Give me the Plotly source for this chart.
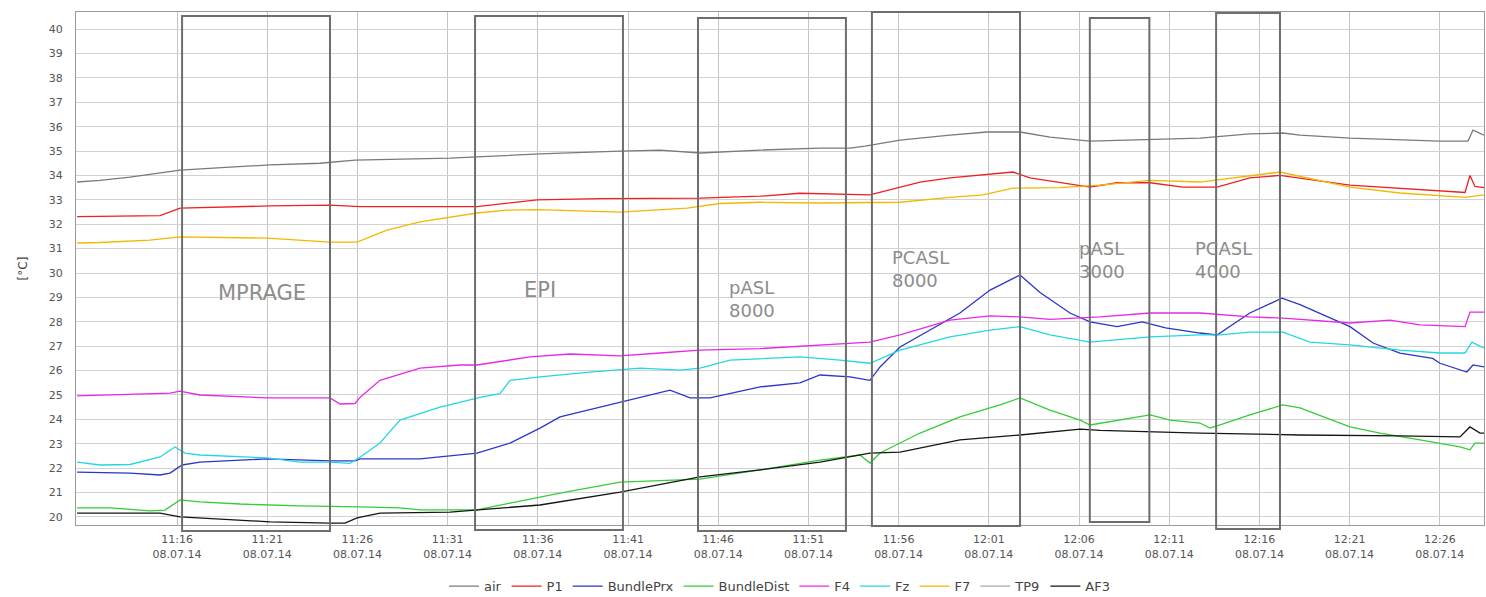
import pandas as pd
import plotly.graph_objects as go

DAY = "2014-07-08 11:00"

# time in minutes after 11:00 on 08.07.2014, values in °C
air_t = [10.46, 11.73, 13.39, 15.06, 16.17, 18.94, 21.16, 23.93, 25.87, 31.13, 36.12, 40.56, 42.77, 44.99,
         48.32, 51.64, 53.31, 54.14, 56.08, 58.85, 60.90, 62.73, 64.39, 66.61, 69.94, 72.71, 75.47, 77.30,
         78.25, 81.02, 86.01, 87.56, 87.84, 88.45]
air_v = [33.73, 33.80, 33.93, 34.10, 34.22, 34.34, 34.43, 34.50, 34.63, 34.71, 34.88, 35.00, 35.04, 34.92,
         35.04, 35.12, 35.12, 35.20, 35.45, 35.65, 35.78, 35.78, 35.57, 35.41, 35.49, 35.53, 35.70, 35.74,
         35.65, 35.53, 35.41, 35.41, 35.86, 35.65]

p1_t = [10.46, 15.06, 16.17, 17.27, 21.16, 24.48, 25.31, 26.14, 32.63, 35.96, 39.45, 44.99, 48.32, 50.53,
        54.41, 57.19, 58.85, 62.34, 63.28, 65.11, 66.61, 68.11, 69.94, 71.76, 73.65, 75.47, 77.14, 81.02,
        84.90, 87.40, 87.67, 87.95, 88.45]
p1_v = [32.31, 32.35, 32.66, 32.68, 32.75, 32.78, 32.76, 32.72, 32.72, 33.00, 33.05, 33.07, 33.15, 33.27,
        33.20, 33.73, 33.90, 34.14, 33.90, 33.70, 33.52, 33.70, 33.70, 33.52, 33.52, 33.90, 34.00, 33.60,
        33.40, 33.30, 34.00, 33.55, 33.50]

prx_t = [10.46, 13.39, 15.06, 15.61, 16.28, 17.27, 20.99, 24.48, 25.87, 26.14, 29.47, 31.69, 32.63, 34.46,
         36.12, 37.23, 39.45, 41.67, 43.33, 44.44, 45.55, 48.32, 50.53, 51.64, 53.31, 54.41, 54.97, 56.08,
         57.74, 59.40, 61.07, 62.73, 63.84, 65.50, 66.61, 68.11, 69.50, 70.80, 72.71, 73.65, 75.47, 77.25,
         78.25, 81.02, 82.30, 83.79, 85.60, 86.01, 87.50, 87.84, 88.45]
prx_v = [21.84, 21.80, 21.72, 21.80, 22.13, 22.25, 22.38, 22.30, 22.30, 22.38, 22.38, 22.54, 22.62, 23.03,
         23.64, 24.10, 24.50, 24.90, 25.20, 24.88, 24.88, 25.33, 25.50, 25.82, 25.74, 25.60, 26.15, 26.97,
         27.66, 28.36, 29.30, 29.92, 29.20, 28.36, 28.00, 27.80, 28.00, 27.75, 27.54, 27.46, 28.36, 28.97,
         28.70, 27.80, 27.13, 26.72, 26.50, 26.30, 25.94, 26.23, 26.15]

dist_t = [10.46, 12.29, 14.50, 15.33, 16.17, 17.27, 19.49, 22.82, 26.14, 28.36, 29.47, 32.63, 34.46, 37.23,
          40.56, 44.99, 48.32, 51.64, 53.86, 54.41, 54.97, 57.19, 59.40, 61.62, 62.73, 64.39, 66.06, 66.61,
          69.94, 71.05, 72.71, 73.26, 73.82, 75.47, 77.30, 78.25, 81.02, 82.69, 84.90, 87.12, 87.67, 87.95,
          88.45]
dist_v = [20.37, 20.37, 20.25, 20.28, 20.70, 20.62, 20.53, 20.45, 20.41, 20.37, 20.29, 20.29, 20.57, 20.98,
          21.43, 21.55, 21.93, 22.33, 22.54, 22.21, 22.62, 23.44, 24.10, 24.59, 24.88, 24.38, 23.97, 23.77,
          24.18, 23.97, 23.85, 23.64, 23.77, 24.18, 24.59, 24.47, 23.69, 23.44, 23.16, 22.87, 22.75, 23.03,
          23.03]

f4_t = [10.46, 15.61, 16.17, 17.27, 20.99, 24.48, 25.04, 25.87, 26.14, 27.25, 29.47, 31.69, 32.63, 35.57,
        37.78, 40.56, 42.77, 44.99, 48.32, 51.64, 54.41, 56.08, 58.85, 61.07, 62.73, 64.39, 67.16, 69.94,
        72.71, 75.47, 77.30, 81.02, 83.24, 84.90, 87.40, 87.67, 88.45]
f4_v = [24.96, 25.08, 25.16, 25.00, 24.88, 24.88, 24.63, 24.65, 24.90, 25.60, 26.10, 26.23, 26.23, 26.56,
        26.68, 26.60, 26.72, 26.84, 26.90, 27.05, 27.17, 27.46, 28.07, 28.24, 28.20, 28.10, 28.20, 28.36,
        28.36, 28.20, 28.15, 27.95, 28.07, 27.87, 27.80, 28.40, 28.40]

fz_t = [10.46, 11.73, 13.39, 15.06, 15.89, 16.44, 17.27, 20.99, 22.82, 24.48, 25.59, 26.14, 27.25, 28.36,
        30.58, 32.80, 33.90, 34.46, 36.12, 38.89, 41.67, 43.88, 44.99, 46.65, 50.53, 52.75, 54.41, 56.08,
        58.85, 61.07, 62.73, 64.39, 66.61, 69.94, 72.71, 73.82, 75.47, 77.30, 78.80, 81.02, 83.79, 86.01,
        87.40, 87.78, 88.45]
fz_v = [22.25, 22.13, 22.15, 22.46, 22.87, 22.62, 22.54, 22.42, 22.25, 22.25, 22.20, 22.45, 23.03, 23.97,
        24.50, 24.90, 25.05, 25.60, 25.74, 25.94, 26.10, 26.02, 26.10, 26.43, 26.56, 26.43, 26.30, 26.84,
        27.38, 27.66, 27.80, 27.46, 27.17, 27.38, 27.46, 27.46, 27.58, 27.58, 27.17, 27.05, 26.84, 26.72,
        26.72, 27.17, 26.92]

f7_t = [10.46, 11.73, 14.50, 16.17, 20.99, 24.48, 25.98, 27.64, 29.47, 32.63, 34.29, 35.96, 40.56, 44.27,
        46.10, 48.32, 51.64, 53.86, 56.08, 58.85, 60.68, 62.34, 64.95, 67.16, 69.94, 72.71, 75.47, 77.14,
        81.02, 83.79, 87.40, 88.45]
f7_v = [31.23, 31.25, 31.35, 31.48, 31.43, 31.27, 31.27, 31.76, 32.10, 32.46, 32.58, 32.60, 32.50, 32.66,
        32.85, 32.90, 32.87, 32.87, 32.90, 33.10, 33.20, 33.48, 33.50, 33.60, 33.80, 33.73, 34.00, 34.14,
        33.52, 33.28, 33.10, 33.20]

tp9_t = [None]
tp9_v = [None]

af3_t = [10.46, 15.06, 16.17, 18.94, 21.16, 24.48, 25.31, 25.98, 27.25, 31.13, 32.63, 36.12, 40.56, 44.99,
         48.32, 51.64, 54.41, 56.08, 59.40, 62.73, 66.06, 67.16, 72.71, 78.25, 83.79, 87.12, 87.67, 88.23,
         88.45]
af3_v = [20.16, 20.16, 20.00, 19.88, 19.80, 19.75, 19.75, 19.96, 20.16, 20.20, 20.29, 20.49, 21.02, 21.64,
         21.93, 22.25, 22.62, 22.66, 23.16, 23.36, 23.60, 23.55, 23.44, 23.36, 23.32, 23.28, 23.69, 23.44,
         23.44]

# MR sequences (start / end, minutes after 11:00)
scan_names = ["MPRAGE", "EPI", "pASL<br>8000", "PCASL<br>8000", "pASL<br>3000", "PCASL<br>4000"]
scan_start = [16.28, 32.52, 44.88, 54.52, 66.60, 73.60]
scan_end = [24.48, 40.72, 53.08, 62.73, 69.90, 77.14]

tick_times = ["11:16", "11:21", "11:26", "11:31", "11:36", "11:41", "11:46", "11:51", "11:56",
              "12:01", "12:06", "12:11", "12:16", "12:21", "12:26"]
tick_date = "08.07.14"
y_ticks = list(range(20, 41))

base = pd.Timestamp(DAY)


def to_time(mins):
    return [None if m is None else base + pd.Timedelta(minutes=m) for m in mins]


series = [
    ("air", air_t, air_v, "#7a7a7a"),
    ("P1", p1_t, p1_v, "#ee2020"),
    ("BundlePrx", prx_t, prx_v, "#2a36c8"),
    ("BundleDist", dist_t, dist_v, "#36cc36"),
    ("F4", f4_t, f4_v, "#e828e8"),
    ("Fz", fz_t, fz_v, "#22d8e0"),
    ("F7", f7_t, f7_v, "#f2b800"),
    ("TP9", tp9_t, tp9_v, "#a8a8a8"),
    ("AF3", af3_t, af3_v, "#151515"),
]

FONT = "DejaVu Sans"
fig = go.Figure()
for name, t, v, c in series:
    fig.add_trace(go.Scatter(x=to_time(t), y=v, name=name, mode="lines",
                             line=dict(color=c, width=1.3)))

# sequence boxes (vertical extent slightly beyond the plot, like the original)
box_y = [(-0.0117, 0.9922), (-0.0097, 0.9922), (-0.0117, 0.9883), (-0.0019, 1.0), (0.0058, 0.9883),
         (-0.0078, 0.9981)]
for (y0, y1), s, e in zip(box_y, scan_start, scan_end):
    fig.add_shape(type="rect", xref="x", yref="paper", x0=base + pd.Timedelta(minutes=s),
                  x1=base + pd.Timedelta(minutes=e), y0=y0, y1=y1,
                  line=dict(color="#6e6e6e", width=2), fillcolor="rgba(0,0,0,0)", layer="above")

# labels of the sequences (paper position of the text block)
label_pos = [(0.1321, 0.4522, "center", 21), (0.3295, 0.4581, "center", 21), (0.4624, 0.4396, "left", 18),
             (0.5781, 0.5000, "left", 18), (0.7109, 0.5156, "left", 18), (0.7933, 0.5156, "left", 18)]
for name, (lx, ly, al, fs) in zip(scan_names, label_pos):
    fig.add_annotation(x=lx, y=ly, xref="paper", yref="paper", text=name, showarrow=False,
                       xanchor=al, yanchor="middle", align="left",
                       font=dict(family=FONT, size=fs, color="#8c8c8c"))

x_range = [base + pd.Timedelta(minutes=10.40), base + pd.Timedelta(minutes=88.45)]
tickvals = [pd.Timestamp("2014-07-08 " + t) for t in tick_times]
ticktext = [t + "<br>" + tick_date for t in tick_times]

fig.update_layout(
    width=1486, height=597,
    margin=dict(l=76, r=2, t=12, b=72, autoexpand=False),
    paper_bgcolor="white", plot_bgcolor="white",
    font=dict(family=FONT, size=11, color="#444"),
    showlegend=True,
    legend=dict(orientation="h", x=0.5, xanchor="center", y=-0.090, yanchor="top",
                font=dict(family=FONT, size=13, color="#444"), bgcolor="rgba(0,0,0,0)",
                itemwidth=30, tracegroupgap=0),
    xaxis=dict(type="date", range=x_range, tickmode="array", tickvals=tickvals, ticktext=ticktext,
               showgrid=True, gridcolor="#c4c4c4", gridwidth=1, zeroline=False, automargin=False,
               showline=True, linecolor="#9a9a9a", linewidth=1, mirror=True, ticks="",
               ticklabelstandoff=4,
               tickfont=dict(family=FONT, size=11, color="#555")),
    yaxis=dict(range=[19.67, 40.70], tickmode="array", tickvals=y_ticks,
               showgrid=True, gridcolor="#d2d2d2", gridwidth=1, zeroline=False, automargin=False,
               showline=True, linecolor="#9a9a9a", linewidth=1, mirror=True, ticks="",
               ticklabelstandoff=10,
               tickfont=dict(family=FONT, size=11, color="#555"),
               title=dict(text="[°C]", font=dict(family=FONT, size=12, color="#444"), standoff=18)),
)

fig.write_html("out.html", config={"displayModeBar": False},
               post_script="document.body.style.margin='0';document.body.style.overflow='hidden';")
